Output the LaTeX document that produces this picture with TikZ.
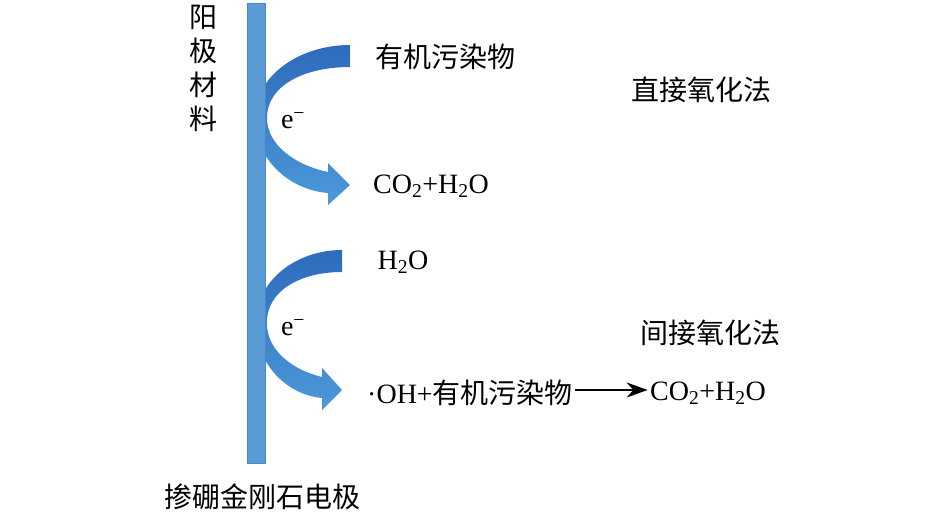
\documentclass[tikz,border=0pt]{standalone}
\usepackage{fontspec}
\setmainfont{Liberation Serif}
\newfontfamily\cjk{Noto Sans CJK SC}
\usepackage{tikz}
\usetikzlibrary{%
  arrows,%
  arrows.meta,%
  positioning,%
  calc%
}
\definecolor{bardblue}{HTML}{5B9BD5}
\definecolor{bardedge}{HTML}{4A86C8}
\definecolor{banddark}{HTML}{2E6BBC}
\definecolor{bandlight}{HTML}{4C99DA}

\begin{document}
\begin{tikzpicture}
  [
  x=1pt, y=-1pt,
  font=\fontsize{28}{34}\selectfont, line width=1pt,
  electrode/.style={rectangle, minimum width=18pt, minimum height=460pt, inner sep=0pt, fill=bardblue, draw=bardedge, line width=0.6pt},
  band/.style={top color=banddark, bottom color=bandlight, draw=none},
  label/.style={inner sep=2pt, anchor=center},
  reaction/.style={-{Stealth[length=21pt,width=15pt]}, line width=2pt, draw=black}
  ]
\useasboundingbox (0,0) rectangle (945,520);

% curved arrows, drawn behind the electrode
\foreach \ty/\sx in {45/1,250/0.906} {
  \begin{scope}[shift={(265,\ty)}, xscale=\sx]
  \path[band] (85,0) .. controls (35,0) and (-10,30) .. (-10,73)
    .. controls (-10,115) and (25,145) .. (63,148)
    -- (63,160) -- (85,140) -- (63,118) -- (63,127)
    .. controls (30,120) and (2,100) .. (2,73)
    .. controls (2,40) and (40,22) .. (85,22) -- cycle;
  \end{scope}
}

\node[electrode] (bar) at (256,233) {};

\node[label, align=center] (anode) at (203,68) {\cjk 阳\\\cjk 极\\\cjk 材\\\cjk 料};
\node[label] (dbd) at (262,497) {\cjk 掺硼金刚石电极};

% direct oxidation
\node[label] (org) at (445,57) {\cjk 有机污染物};
\node[label] (e1) at (293,121) {e\textsuperscript{−}};
\node[label] (co2a) at (431,186) {CO\textsubscript{2}+H\textsubscript{2}O};
\node[label] (direct) at (701,90) {\cjk 直接氧化法};

% indirect oxidation
\node[label] (water) at (403,262) {H\textsubscript{2}O};
\node[label] (e2) at (293,328) {e\textsuperscript{−}};
\node[label] (indirect) at (710,333) {\cjk 间接氧化法};
\node[label] (oh) at (470,393) {·OH+{\cjk 有机污染物}};
\node[label] (co2b) at (708,393) {CO\textsubscript{2}+H\textsubscript{2}O};

\draw[reaction] ([yshift=3pt]oh.east) -- ([yshift=3pt]oh.east -| co2b.west);
\end{tikzpicture}
\end{document}
